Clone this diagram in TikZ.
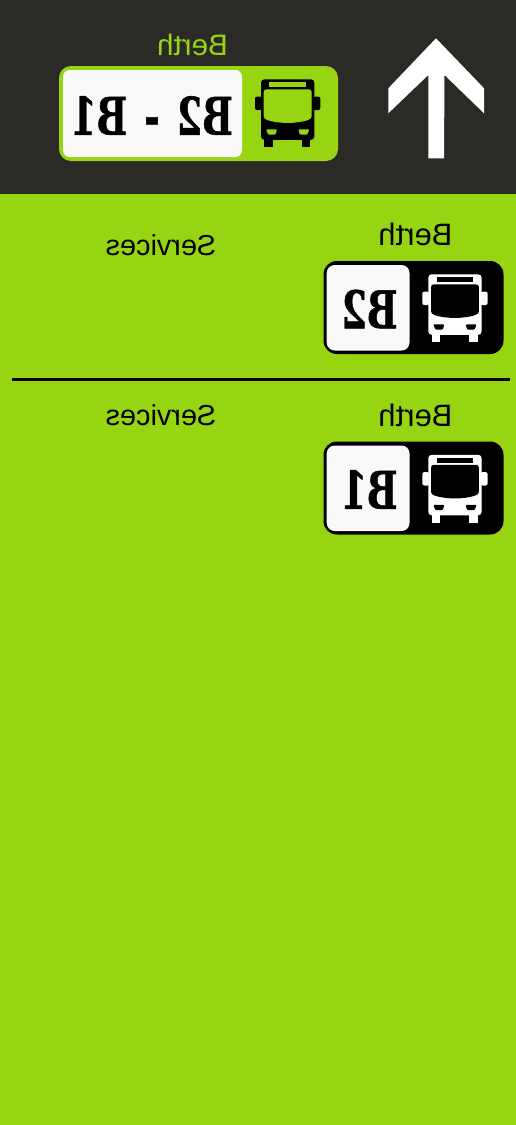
\documentclass[tikz,border=0pt]{standalone}
\usepackage{fontspec}
\setmainfont{Liberation Sans}
\newfontfamily\slabfont[FakeBold=1.2]{DejaVu Serif}
\definecolor{bandgreen}{HTML}{97D512}
\definecolor{banddark}{HTML}{2B2A27}
\definecolor{platewhite}{HTML}{F9F9F9}
\tikzset{
  mirrored/.style={xscale=-1,transform shape,inner sep=0pt},
  berthlabel/.style={mirrored,font=\fontsize{23.2}{25}\selectfont},
  servicelabel/.style={mirrored,font=\fontsize{21.6}{24}\selectfont},
  plate/.style={xscale=-.7,transform shape,inner sep=0pt,font=\fontsize{39}{40}\slabfont\bfseries},
  pics/busicon/.style 2 args={code={
    \fill[#1,rounded corners=2.5] (0,0) rectangle (53.3,60.5);
    \fill[#1,rounded corners=1.5] (-6,17.3) rectangle (1,30.7);
    \fill[#1,rounded corners=1.5] (52.3,17.3) rectangle (59.3,30.7);
    \fill[#1] (3.3,59) rectangle (11.7,68);
    \fill[#1] (41,59) rectangle (49.4,68);
    \fill[#2] (8.3,3) rectangle (45,8);
    \fill[#2] (5.7,10) -- (47.6,10) .. controls (49.6,10) and (50.6,11) .. (50.6,13)
      -- (50.6,37) .. controls (50.6,39) and (49.3,40) .. (46.3,41)
      .. controls (35,44.5) and (18.3,44.5) .. (7,41)
      .. controls (4,40) and (2.7,39) .. (2.7,37) -- (2.7,13)
      .. controls (2.7,11) and (3.7,10) .. (5.7,10) -- cycle;
    \fill[#2,rounded corners=.8] (5,50) -- (16,50) -- (14.5,55.3) -- (7,55.3) -- cycle;
    \fill[#2,rounded corners=.8] (48.3,50) -- (37.3,50) -- (38.8,55.3) -- (46.3,55.3) -- cycle;
  }}
}

\begin{document}
\begin{tikzpicture}[x=.75pt,y=-.75pt,line cap=butt,line join=miter]
  \useasboundingbox (0,0) rectangle (516,1125);
  \fill[bandgreen] (0,0) rectangle (516,1125);
  \fill[banddark] (0,0) rectangle (516,193.5);
  % arrow
  \fill[white] (436,38.3) -- (484,88.3) -- (484,113.3) -- (444.5,75) -- (444,158.3)
    -- (428.3,158.3) -- (428.3,75) -- (388.3,113.3) -- (388.3,88.3) -- cycle;
  % top plate
  \node[mirrored,font=\fontsize{22.2}{24}\selectfont,text=bandgreen] (berthtop) at (192.5,45) {Berth};
  \fill[bandgreen,rounded corners=9] (59,66) rectangle (338,161);
  \fill[platewhite,rounded corners=5] (63,70) rectangle (242,157);
  \node[plate] (platetop) at (152,115.5) {B2\hspace{18.5pt}-\hspace{18.5pt}B1};
  \pic at (261,79.3) {busicon={black}{bandgreen}};
  % rows
  \foreach \rowy/\servy/\lab in {0/0/B2,180.5/170/B1}{
    \node[berthlabel] (berth\lab) at (415.5,{234.5+\rowy}) {Berth};
    \node[servicelabel] (services\lab) at (161,{245+\servy}) {Services};
    \fill[black,rounded corners=10] (323.5,{261+\rowy}) rectangle (503.5,{354+\rowy});
    \fill[platewhite,rounded corners=6] (326.7,{265+\rowy}) rectangle (409.5,{350.5+\rowy});
    \node[plate] (plate\lab) at (369.5,{309+\rowy}) {\lab};
    \pic at (428.3,{274.3+\rowy}) {busicon={white}{black}};
  }
  \draw[line width=1.6pt] (12,379.5) -- (510,379.5);
\end{tikzpicture}
\end{document}
